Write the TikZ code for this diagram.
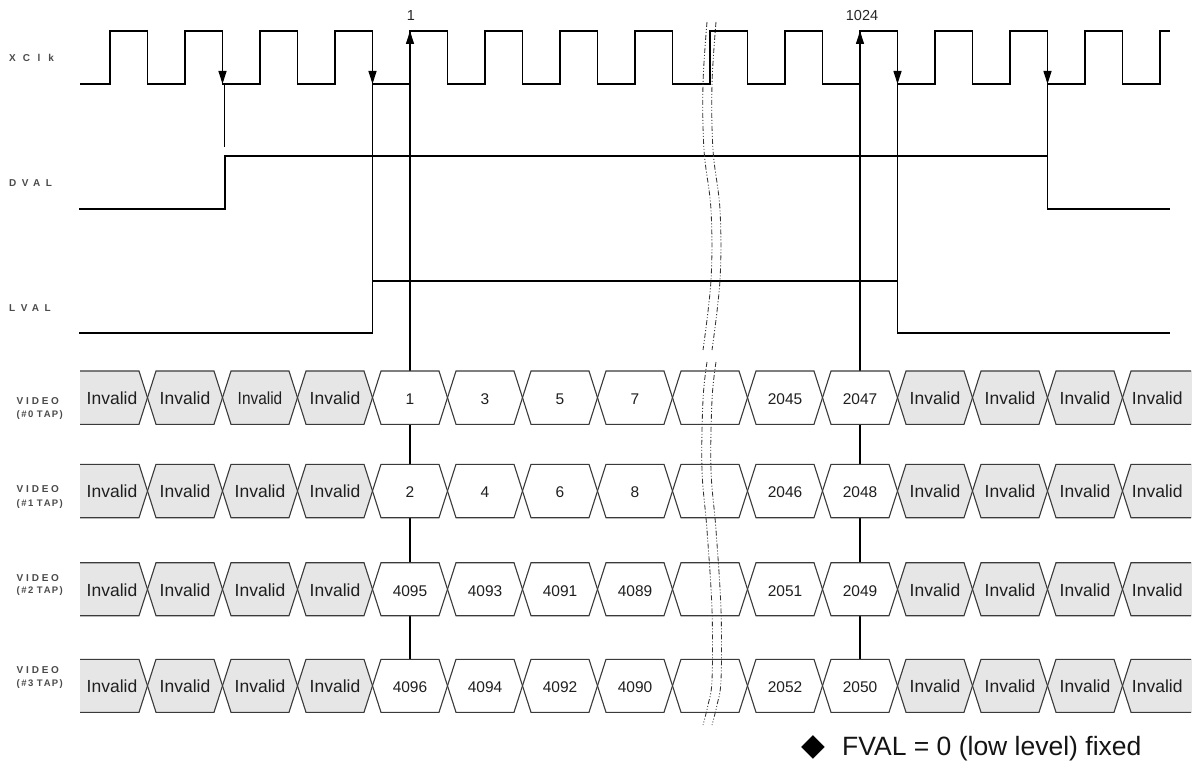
\documentclass[tikz,border=0pt]{standalone}
\usepackage{fontspec}
\usepackage{graphicx}
\setmainfont{Liberation Sans}
\newfontfamily\symfont{DejaVu Sans}
\usetikzlibrary{arrows.meta}
\definecolor{cellfill}{HTML}{E6E6E6}
\definecolor{edgec}{HTML}{3A3A3A}
\definecolor{lblc}{HTML}{4A4A4A}
\tikzset{
  sig/.style={line width=1.3pt, black, line join=miter},
  cellline/.style={line width=1.1pt, draw=edgec},
  inv/.style={font=\fontsize{17.5}{17.5}\selectfont, text=black!88, inner sep=0pt, anchor=base},
  num/.style={font=\fontsize{15.5}{15.5}\selectfont, text=black!88, inner sep=0pt, anchor=base},
  siglabel/.style={font=\fontsize{10}{10}\selectfont\bfseries, text=lblc, anchor=base west, inner sep=0pt},
  taplabel/.style={font=\fontsize{9.5}{9.5}\selectfont\bfseries, text=lblc, anchor=base west, inner sep=0pt},
  marker/.style={line width=1.2pt, -{Triangle[length=13pt,width=8pt]}},
  conn/.style={line width=1.2pt},
  breakline/.style={line width=0.85pt, black!80, dash pattern=on 5pt off 2pt on 1pt off 2pt on 1pt off 2pt},
  edgelabel/.style={font=\fontsize{14.5}{14.5}\selectfont, text=black!85, inner sep=0pt, anchor=base},
}
\newcommand{\vrow}[4]{%
  \pgfmathsetmacro{\M}{(#2+#3)/2}
  \foreach \lab/\fc/\st [count=\i] in {#4} {
    \pgfmathsetmacro{\L}{ifthenelse(\i==1,80,147.5+75*(\i-2))}
    \pgfmathsetmacro{\R}{ifthenelse(\i==15,1192,147.5+75*(\i-1))}
    \pgfmathsetmacro{\X}{ifthenelse(\i==1,112,(\L+\R)/2)}
    \ifnum\i=1
      \fill[\fc] (80,#2) -- (\R-8.5,#2) -- (\R,\M) -- (\R-8.5,#3) -- (80,#3) -- cycle;
      \draw[cellline] (80,#2) -- (\R-8.5,#2) -- (\R,\M) -- (\R-8.5,#3) -- (80,#3);
    \else\ifnum\i=15
      \fill[\fc] (\L,\M) -- (\L+8.5,#2) -- (1192,#2) -- (1192,#3) -- (\L+8.5,#3) -- cycle;
      \draw[cellline] (1191,#2) -- (\L+8.5,#2) -- (\L,\M) -- (\L+8.5,#3) -- (1191,#3);
    \else
      \filldraw[cellline, fill=\fc] (\L,\M) -- (\L+8.5,#2) -- (\R-8.5,#2) -- (\R,\M) -- (\R-8.5,#3) -- (\L+8.5,#3) -- cycle;
    \fi\fi
    \node[\st] (#1-\i) at (\X,\M+6.8) {\lab};
  }
}
\begin{document}
\begin{tikzpicture}[x=1pt,y=-1pt]
\useasboundingbox (0,0) rectangle (1192,765);

% signal labels
\node[siglabel] (lxclk) at (9,62) {X\kern7pt C\kern7.5pt l\kern8pt k};
\node[siglabel] (ldval) at (9,186) {D\kern5.5pt V\kern4.5pt A\kern5.5pt L};
\node[siglabel] (llval) at (9,311) {L\kern5.5pt V\kern4.5pt A\kern5.5pt L};
\foreach \n/\va/\vb in {0/404.5/417.5, 1/492.5/506, 2/581/593, 3/673.5/686} {
  \node[siglabel] (lvid\n) at (16.5,\va) {V\kern2.8pt I\kern2.8pt D\kern2.8pt E\kern2.8pt O};
  \node[taplabel] (ltap\n) at (16.5,\vb) {(\kern1.5pt\#\kern1.5pt \n\kern3.5pt T\kern1.2pt A\kern1.2pt P\kern1.2pt )};
}

% clock
\draw[sig] (80,84) -- (110,84)
  \foreach \k in {0,...,13} { -- ({110+75*\k},31) -- ({147.5+75*\k},31) -- ({147.5+75*\k},84) -- ({185+75*\k},84) }
  -- (1160,31) -- (1170,31);

% DVAL and LVAL
\draw[sig] (79,209) -- (225,209) -- (225,156) -- (1047.5,156) -- (1047.5,209) -- (1170,209);
\draw[sig] (79,333) -- (372.5,333) -- (372.5,281) -- (897.5,281) -- (897.5,333) -- (1170,333);

% named points
\coordinate (fa) at (222.5,31);  \coordinate (fa2) at (222.5,84);
\coordinate (fb) at (372.5,31);  \coordinate (fb2) at (372.5,84);
\coordinate (fc) at (897.5,31);  \coordinate (fc2) at (897.5,84);
\coordinate (fd) at (1047.5,31); \coordinate (fd2) at (1047.5,84);
\coordinate (da) at (224.5,147);
\coordinate (lb) at (372.5,281);
\coordinate (lc) at (897.5,281);
\coordinate (dd) at (1047.5,156);
\coordinate (ua) at (410,659.3); \coordinate (ua2) at (410,31);
\coordinate (ub) at (860,659.3); \coordinate (ub2) at (860,31);

% falling edge markers and their lines
\draw[marker] (fa) -- (fa2);
\draw[marker] (fb) -- (fb2);
\draw[marker] (fc) -- (fc2);
\draw[marker] (fd) -- (fd2);
\draw[conn] (224.5,84) -- (da);
\draw[conn] (fb2) -- (lb);
\draw[conn] (fc2) -- (lc);
\draw[conn] (fd2) -- (dd);

% rising edge markers
\draw[marker] (ua) -- (ua2);
\draw[marker] (ub) -- (ub2);
\node[edgelabel] (n1) at (411,20.5) {1};
\node[edgelabel] (n1024) at (862,20.5) {1024};

% video rows
\vrow{r0}{371}{424.3}{Invalid/cellfill/inv, Invalid/cellfill/inv, {\scalebox{0.88}[1]{Invalid}}/cellfill/inv, Invalid/cellfill/inv, 1/white/num, 3/white/num, 5/white/num, 7/white/num, {}/white/num, 2045/white/num, 2047/white/num, Invalid/cellfill/inv, Invalid/cellfill/inv, Invalid/cellfill/inv, Invalid/cellfill/inv}
\vrow{r1}{464.3}{517.7}{Invalid/cellfill/inv, Invalid/cellfill/inv, Invalid/cellfill/inv, Invalid/cellfill/inv, 2/white/num, 4/white/num, 6/white/num, 8/white/num, {}/white/num, 2046/white/num, 2048/white/num, Invalid/cellfill/inv, Invalid/cellfill/inv, Invalid/cellfill/inv, Invalid/cellfill/inv}
\vrow{r2}{562.7}{615.7}{Invalid/cellfill/inv, Invalid/cellfill/inv, Invalid/cellfill/inv, Invalid/cellfill/inv, 4095/white/num, 4093/white/num, 4091/white/num, 4089/white/num, {}/white/num, 2051/white/num, 2049/white/num, Invalid/cellfill/inv, Invalid/cellfill/inv, Invalid/cellfill/inv, Invalid/cellfill/inv}
\vrow{r3}{659.3}{712.3}{Invalid/cellfill/inv, Invalid/cellfill/inv, Invalid/cellfill/inv, Invalid/cellfill/inv, 4096/white/num, 4094/white/num, 4092/white/num, 4090/white/num, {}/white/num, 2052/white/num, 2050/white/num, Invalid/cellfill/inv, Invalid/cellfill/inv, Invalid/cellfill/inv, Invalid/cellfill/inv}

% break lines
\foreach \dx in {0,9} {
  \draw[breakline] plot[smooth, tension=0.6] coordinates {({707+\dx},22) ({703+\dx},84) ({704+\dx},150) ({711+\dx},210) ({711+\dx},280) ({703+\dx},350)};
  \draw[breakline] plot[smooth, tension=0.6] coordinates {({707+\dx},362) ({703+\dx},400) ({702+\dx},470) ({707+\dx},530) ({712+\dx},610) ({712+\dx},680) ({708+\dx},705) ({703+\dx},725)};
}

% note
\node[font=\fontsize{31}{31}\selectfont\symfont, inner sep=0pt, anchor=center] (dia) at (813,747.5) {◆};
\node[font=\fontsize{26.5}{26.5}\selectfont, text=black!92, inner sep=0pt, anchor=base west] (note) at (842,755.5) {FVAL = 0 (low level) fixed};
\end{tikzpicture}
\end{document}
